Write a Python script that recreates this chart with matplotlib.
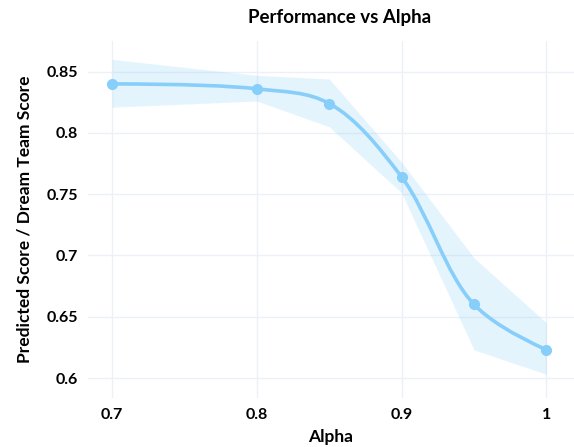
import matplotlib
matplotlib.use('Agg')
import matplotlib.pyplot as plt
from matplotlib.path import Path
from matplotlib.patches import PathPatch
import numpy as np

alpha = [0.7, 0.8, 0.85, 0.9, 0.95, 1.0]
score = [0.840, 0.836, 0.824, 0.764, 0.660, 0.623]
upper = [0.860, 0.847, 0.844, 0.776, 0.698, 0.645]
lower = [0.821, 0.826, 0.805, 0.751, 0.623, 0.603]

x_ticks = [0.7, 0.8, 0.9, 1.0]
x_labels = ['0.7', '0.8', '0.9', '1']
y_ticks = [0.6, 0.65, 0.7, 0.75, 0.8, 0.85]
y_labels = ['0.6', '0.65', '0.7', '0.75', '0.8', '0.85']

line_color = '#87CEFA'
band_color = '#87CEFA'
grid_color = '#EDF0F7'

plt.rcParams['font.family'] = ['Lato', 'DejaVu Sans']

fig = plt.figure(figsize=(5.74, 4.47), dpi=100)
ax = fig.add_axes([88 / 574, 49 / 447, 486 / 574, 357 / 447])
ax.set_xlim(0.6834, 1.019)
ax.set_ylim(0.5837, 0.875)

for s in ax.spines.values():
    s.set_visible(False)
ax.set_xticks(x_ticks)
ax.set_xticklabels(x_labels)
ax.set_yticks(y_ticks)
ax.set_yticklabels(y_labels)
ax.tick_params(length=0, labelsize=11.5, pad=7)
for lab in ax.get_xticklabels() + ax.get_yticklabels():
    lab.set_fontweight('bold')
ax.grid(True, color=grid_color, linewidth=1)
ax.set_axisbelow(True)

# confidence band (straight segments)
ax.fill_between(alpha, lower, upper, color=band_color, alpha=0.22, linewidth=0)


# smooth line like plotly's spline shape, done in pixel space
def tangent(p0, p1, p2, smooth=1.0):
    d1 = p0 - p1
    d2 = p2 - p1
    d1a = np.hypot(*d1) ** 0.5
    d2a = np.hypot(*d2) ** 0.5
    num = (d2a * d2a * d1 - d1a * d1a * d2) * smooth
    den1 = d2a * (d1a + d2a) * 3
    den2 = d1a * (d1a + d2a) * 3
    return p1 + num / den1, p1 - num / den2


pts = ax.transData.transform(np.column_stack([alpha, score]))
tans = [tangent(pts[i - 1], pts[i], pts[i + 1]) for i in range(1, len(pts) - 1)]
verts = [pts[0], tans[0][0], pts[1]]
codes = [Path.MOVETO, Path.CURVE3, Path.CURVE3]
for i in range(2, len(pts) - 1):
    verts += [tans[i - 2][1], tans[i - 1][0], pts[i]]
    codes += [Path.CURVE4] * 3
verts += [tans[-1][1], pts[-1]]
codes += [Path.CURVE3] * 2
verts = ax.transData.inverted().transform(np.array(verts))
ax.add_patch(PathPatch(Path(verts, codes), facecolor='none', edgecolor=line_color,
                       linewidth=2.6, capstyle='round', zorder=3))
ax.plot(alpha, score, 'o', color=line_color, markersize=7, zorder=4)

fig.text(340 / 574, 1 - 17 / 447, 'Performance vs Alpha', ha='center', va='center',
         fontsize=13.5, fontweight='bold')
ax.set_xlabel('Alpha', fontsize=12.5, fontweight='bold', labelpad=5)
ax.set_ylabel('Predicted Score / Dream Team Score', fontsize=12.5, fontweight='bold', labelpad=10)

plt.savefig('out.png', dpi=100)
